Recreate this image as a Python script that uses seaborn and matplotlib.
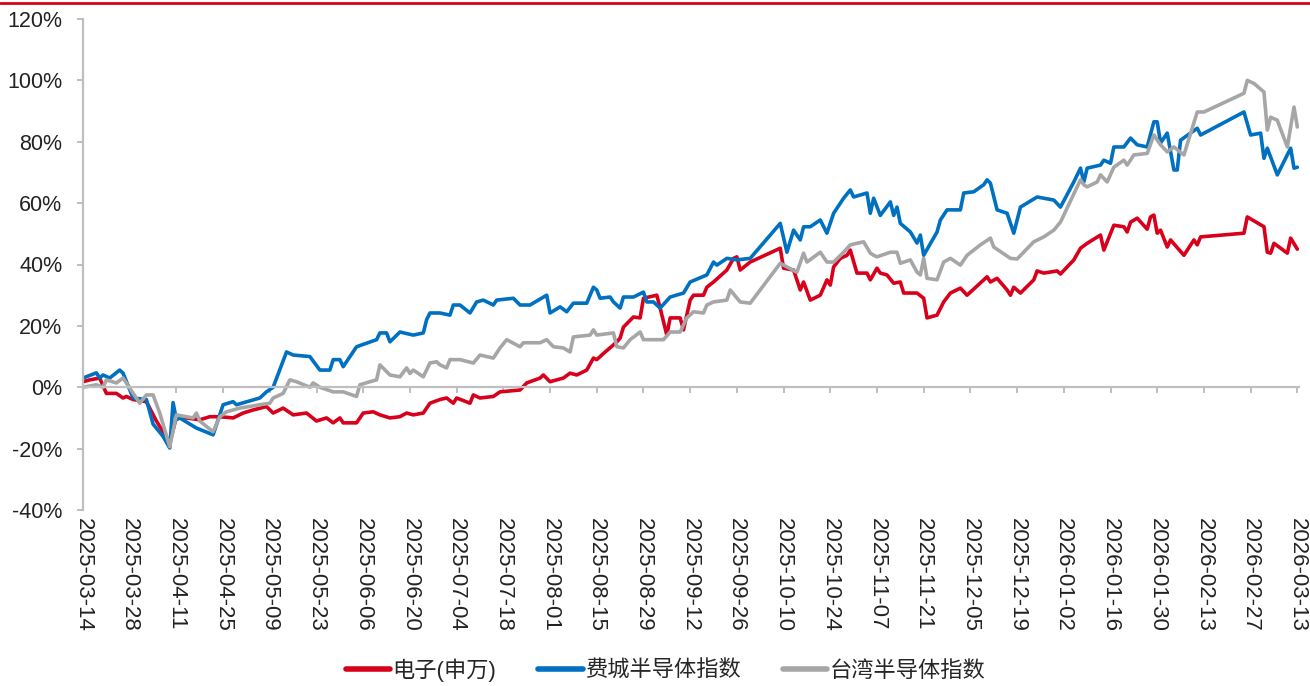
import pandas as pd
import matplotlib
matplotlib.use("Agg")
import matplotlib.pyplot as plt
import matplotlib.dates as mdates
from matplotlib.ticker import FuncFormatter, MultipleLocator
import seaborn as sns

series_names = ["电子(申万)", "费城半导体指数", "台湾半导体指数"]
colors = ["#D9001B", "#0070C0", "#A6A6A6"]

# 电子(申万)
red_dates = [
    "2025-03-14", "2025-03-16", "2025-03-19", "2025-03-21", "2025-03-24", "2025-03-26", "2025-03-27",
    "2025-03-29", "2025-04-02", "2025-04-05", "2025-04-09", "2025-04-10", "2025-04-11", "2025-04-14",
    "2025-04-18", "2025-04-21", "2025-04-24", "2025-04-28", "2025-05-01", "2025-05-04", "2025-05-08",
    "2025-05-10", "2025-05-13", "2025-05-16", "2025-05-20", "2025-05-23", "2025-05-26", "2025-05-28",
    "2025-05-30", "2025-05-31", "2025-06-04", "2025-06-06", "2025-06-09", "2025-06-11", "2025-06-14",
    "2025-06-17", "2025-06-19", "2025-06-21", "2025-06-24", "2025-06-26", "2025-06-29", "2025-07-01",
    "2025-07-03", "2025-07-04", "2025-07-08", "2025-07-09", "2025-07-11", "2025-07-15", "2025-07-17",
    "2025-07-23", "2025-07-25", "2025-07-29", "2025-07-30", "2025-08-01", "2025-08-05", "2025-08-07",
    "2025-08-09", "2025-08-12", "2025-08-14", "2025-08-15", "2025-08-17", "2025-08-20", "2025-08-21",
    "2025-08-22", "2025-08-23", "2025-08-26", "2025-08-28", "2025-08-29", "2025-09-02", "2025-09-03",
    "2025-09-05", "2025-09-06", "2025-09-09", "2025-09-10", "2025-09-12", "2025-09-13", "2025-09-16",
    "2025-09-17", "2025-09-19", "2025-09-23", "2025-09-25", "2025-09-26", "2025-09-27", "2025-09-30",
    "2025-10-09", "2025-10-10", "2025-10-13", "2025-10-15", "2025-10-16", "2025-10-18", "2025-10-21",
    "2025-10-23", "2025-10-24", "2025-10-25", "2025-10-27", "2025-10-29", "2025-10-30", "2025-11-01",
    "2025-11-04", "2025-11-05", "2025-11-07", "2025-11-08", "2025-11-10", "2025-11-12", "2025-11-14",
    "2025-11-15", "2025-11-19", "2025-11-21", "2025-11-22", "2025-11-25", "2025-11-27", "2025-11-29",
    "2025-12-02", "2025-12-04", "2025-12-10", "2025-12-11", "2025-12-13", "2025-12-16", "2025-12-17",
    "2025-12-18", "2025-12-20", "2025-12-24", "2025-12-25", "2025-12-27", "2025-12-31", "2026-01-01",
    "2026-01-05", "2026-01-07", "2026-01-09", "2026-01-13", "2026-01-14", "2026-01-17", "2026-01-20",
    "2026-01-21", "2026-01-22", "2026-01-24", "2026-01-27", "2026-01-28", "2026-01-29", "2026-01-30",
    "2026-01-31", "2026-02-02", "2026-02-03", "2026-02-07", "2026-02-10", "2026-02-11", "2026-02-12",
    "2026-02-25", "2026-02-26", "2026-03-03", "2026-03-04", "2026-03-05", "2026-03-06", "2026-03-10",
    "2026-03-11", "2026-03-13",
]
red_vals = [
    1.8, 2.4, 3.0, -2.0, -2.0, -3.5, -3.0,
    -4.0, -4.7, -11.0, -18.0, -14.0, -9.6, -10.0,
    -10.6, -9.6, -9.6, -10.0, -8.4, -7.4, -6.3,
    -8.4, -6.8, -9.0, -8.4, -11.0, -10.0, -11.6,
    -10.0, -11.6, -11.6, -8.4, -8.0, -9.0, -10.0,
    -9.6, -8.4, -9.0, -8.4, -5.2, -4.0, -3.5,
    -5.2, -3.5, -5.2, -2.5, -3.5, -3.0, -1.5,
    -0.9, 1.4, 3.0, 4.0, 1.8, 3.0, 4.6,
    4.0, 5.6, 9.5, 9.0, 11.0, 13.8, 14.8,
    16.0, 19.6, 22.9, 22.6, 29.0, 30.0, 25.8,
    17.0, 22.6, 22.6, 18.7, 28.4, 30.0, 30.0,
    32.6, 34.3, 38.2, 42.0, 42.5, 38.2, 40.8,
    45.3, 38.8, 38.2, 31.7, 34.3, 28.4, 30.0,
    35.0, 33.3, 39.2, 42.0, 43.0, 44.7, 37.2,
    37.2, 35.0, 38.8, 37.2, 36.6, 33.9, 34.3,
    30.7, 30.7, 29.0, 22.6, 23.5, 27.8, 30.7,
    32.3, 30.0, 36.0, 34.3, 35.5, 31.7, 30.0,
    32.6, 30.7, 35.0, 37.9, 37.2, 37.9, 36.9,
    41.5, 45.3, 46.9, 49.6, 44.7, 52.8, 52.3,
    50.6, 53.8, 55.1, 51.5, 55.5, 56.1, 50.2,
    51.2, 45.7, 48.0, 43.0, 48.0, 46.4, 49.0,
    50.2, 55.5, 52.3, 44.0, 43.7, 46.9, 43.7,
    48.6, 45.0,
]

# 费城半导体指数
blue_dates = [
    "2025-03-14", "2025-03-18", "2025-03-19", "2025-03-20", "2025-03-22", "2025-03-25", "2025-03-26",
    "2025-03-29", "2025-04-02", "2025-04-04", "2025-04-07", "2025-04-09", "2025-04-10", "2025-04-11",
    "2025-04-12", "2025-04-17", "2025-04-22", "2025-04-25", "2025-04-28", "2025-04-29", "2025-05-06",
    "2025-05-08", "2025-05-10", "2025-05-14", "2025-05-16", "2025-05-21", "2025-05-24", "2025-05-27",
    "2025-05-28", "2025-05-30", "2025-05-31", "2025-06-04", "2025-06-10", "2025-06-11", "2025-06-13",
    "2025-06-14", "2025-06-17", "2025-06-21", "2025-06-24", "2025-06-25", "2025-06-26", "2025-06-29",
    "2025-07-02", "2025-07-03", "2025-07-05", "2025-07-08", "2025-07-10", "2025-07-12", "2025-07-15",
    "2025-07-16", "2025-07-21", "2025-07-23", "2025-07-26", "2025-07-31", "2025-08-01", "2025-08-04",
    "2025-08-06", "2025-08-08", "2025-08-12", "2025-08-14", "2025-08-15", "2025-08-16", "2025-08-19",
    "2025-08-20", "2025-08-22", "2025-08-23", "2025-08-26", "2025-08-29", "2025-08-30", "2025-09-01",
    "2025-09-03", "2025-09-06", "2025-09-10", "2025-09-12", "2025-09-17", "2025-09-19", "2025-09-20",
    "2025-09-23", "2025-09-26", "2025-09-30", "2025-10-09", "2025-10-11", "2025-10-13", "2025-10-15",
    "2025-10-16", "2025-10-18", "2025-10-21", "2025-10-23", "2025-10-25", "2025-10-28", "2025-10-30",
    "2025-10-31", "2025-11-04", "2025-11-05", "2025-11-06", "2025-11-08", "2025-11-11", "2025-11-12",
    "2025-11-13", "2025-11-14", "2025-11-17", "2025-11-19", "2025-11-20", "2025-11-21", "2025-11-25",
    "2025-11-26", "2025-11-28", "2025-12-02", "2025-12-03", "2025-12-06", "2025-12-09", "2025-12-10",
    "2025-12-11", "2025-12-13", "2025-12-16", "2025-12-18", "2025-12-20", "2025-12-25", "2025-12-30",
    "2026-01-01", "2026-01-05", "2026-01-07", "2026-01-08", "2026-01-09", "2026-01-13", "2026-01-14",
    "2026-01-16", "2026-01-17", "2026-01-20", "2026-01-22", "2026-01-24", "2026-01-27", "2026-01-29",
    "2026-01-30", "2026-01-31", "2026-02-02", "2026-02-04", "2026-02-05", "2026-02-06", "2026-02-11",
    "2026-02-12", "2026-02-25", "2026-02-27", "2026-03-02", "2026-03-03", "2026-03-04", "2026-03-07",
    "2026-03-11", "2026-03-12", "2026-03-13",
]
blue_vals = [
    3.0, 4.7, 3.0, 4.0, 3.0, 5.6, 4.6,
    -3.5, -4.0, -12.0, -16.0, -19.8, -5.0, -10.6,
    -10.0, -13.3, -15.5, -5.7, -4.7, -5.7, -3.5,
    -1.5, 0.0, 11.5, 10.5, 10.0, 5.6, 5.6,
    9.0, 9.0, 6.7, 13.2, 15.5, 17.7, 17.7,
    14.8, 18.0, 17.0, 17.7, 22.0, 24.2, 24.2,
    23.5, 26.8, 26.8, 24.2, 27.8, 28.4, 26.8,
    28.4, 29.0, 26.8, 26.8, 30.0, 24.2, 26.2,
    24.6, 27.4, 27.4, 32.6, 31.7, 29.0, 29.4,
    27.8, 25.8, 29.4, 29.4, 31.0, 27.8, 27.8,
    25.8, 29.4, 30.7, 34.3, 36.6, 40.8, 39.8,
    42.0, 41.5, 42.0, 53.4, 44.0, 51.2, 48.0,
    52.3, 52.3, 54.5, 50.2, 56.7, 61.6, 64.3,
    62.0, 63.3, 56.7, 61.6, 56.0, 60.4, 56.0,
    58.7, 53.4, 50.6, 47.0, 49.6, 43.0, 50.6,
    54.5, 57.8, 57.8, 63.3, 63.7, 66.0, 67.6,
    66.5, 57.8, 56.7, 50.2, 58.7, 62.0, 61.0,
    58.7, 66.9, 71.4, 66.9, 71.4, 72.4, 74.0,
    73.0, 78.3, 78.3, 81.2, 79.0, 78.3, 86.5,
    86.5, 79.6, 82.8, 70.8, 70.8, 80.5, 84.4,
    82.2, 89.7, 82.2, 82.8, 74.6, 77.9, 69.2,
    77.9, 71.4, 71.7,
]

# 台湾半导体指数
gray_dates = [
    "2025-03-14", "2025-03-18", "2025-03-20", "2025-03-21", "2025-03-24", "2025-03-26", "2025-03-27",
    "2025-03-31", "2025-04-02", "2025-04-04", "2025-04-06", "2025-04-09", "2025-04-11", "2025-04-16",
    "2025-04-17", "2025-04-18", "2025-04-22", "2025-04-24", "2025-04-26", "2025-04-30", "2025-05-06",
    "2025-05-09", "2025-05-10", "2025-05-13", "2025-05-15", "2025-05-17", "2025-05-21", "2025-05-22",
    "2025-05-24", "2025-05-28", "2025-05-31", "2025-06-04", "2025-06-05", "2025-06-08", "2025-06-10",
    "2025-06-11", "2025-06-14", "2025-06-17", "2025-06-19", "2025-06-20", "2025-06-21", "2025-06-24",
    "2025-06-26", "2025-06-28", "2025-06-29", "2025-07-01", "2025-07-02", "2025-07-05", "2025-07-09",
    "2025-07-11", "2025-07-15", "2025-07-17", "2025-07-19", "2025-07-23", "2025-07-24", "2025-07-29",
    "2025-07-31", "2025-08-02", "2025-08-05", "2025-08-07", "2025-08-08", "2025-08-13", "2025-08-14",
    "2025-08-15", "2025-08-20", "2025-08-21", "2025-08-23", "2025-08-25", "2025-08-28", "2025-08-29",
    "2025-09-04", "2025-09-06", "2025-09-09", "2025-09-11", "2025-09-13", "2025-09-16", "2025-09-17",
    "2025-09-19", "2025-09-23", "2025-09-24", "2025-09-27", "2025-09-30", "2025-10-09", "2025-10-14",
    "2025-10-16", "2025-10-17", "2025-10-21", "2025-10-23", "2025-10-25", "2025-10-28", "2025-10-30",
    "2025-11-03", "2025-11-05", "2025-11-06", "2025-11-07", "2025-11-11", "2025-11-13", "2025-11-14",
    "2025-11-17", "2025-11-19", "2025-11-20", "2025-11-21", "2025-11-22", "2025-11-25", "2025-11-27",
    "2025-11-29", "2025-12-02", "2025-12-04", "2025-12-08", "2025-12-11", "2025-12-12", "2025-12-17",
    "2025-12-19", "2025-12-24", "2025-12-27", "2025-12-30", "2026-01-01", "2026-01-07", "2026-01-08",
    "2026-01-09", "2026-01-12", "2026-01-13", "2026-01-15", "2026-01-17", "2026-01-20", "2026-01-21",
    "2026-01-23", "2026-01-27", "2026-01-29", "2026-01-31", "2026-02-02", "2026-02-04", "2026-02-07",
    "2026-02-11", "2026-02-13", "2026-02-25", "2026-02-26", "2026-02-28", "2026-03-03", "2026-03-04",
    "2026-03-05", "2026-03-07", "2026-03-10", "2026-03-12", "2026-03-13",
]
gray_vals = [
    0.0, 0.8, 0.0, 2.4, 1.4, 3.0, 1.4,
    -5.2, -2.5, -2.5, -8.4, -19.4, -9.0, -10.0,
    -8.4, -11.0, -14.5, -9.6, -8.0, -6.8, -5.7,
    -5.2, -3.5, -2.0, 2.4, 1.8, 0.0, 1.4,
    0.0, -1.5, -1.5, -3.0, 0.8, 1.8, 2.4,
    7.3, 4.0, 3.4, 6.3, 4.5, 5.6, 3.4,
    7.9, 8.3, 7.3, 6.3, 9.0, 9.0, 7.9,
    10.5, 9.5, 12.8, 15.5, 13.2, 14.5, 14.5,
    15.5, 13.2, 12.8, 11.5, 16.4, 17.0, 18.7,
    17.0, 17.7, 13.2, 12.8, 15.5, 18.0, 15.5,
    15.5, 18.0, 18.0, 22.6, 24.6, 24.2, 26.8,
    27.8, 28.4, 31.7, 27.8, 27.4, 40.4, 37.5,
    43.7, 40.8, 44.0, 40.8, 40.8, 44.0, 46.4,
    47.4, 43.7, 43.0, 42.5, 44.0, 44.0, 40.4,
    41.5, 37.5, 36.6, 42.0, 35.5, 35.0, 40.8,
    42.0, 39.8, 43.0, 46.4, 48.6, 45.7, 42.0,
    41.8, 47.4, 49.0, 51.2, 53.8, 67.6, 66.0,
    65.3, 66.9, 69.2, 66.9, 71.7, 74.0, 72.4,
    75.7, 76.2, 82.2, 79.0, 76.7, 78.3, 75.7,
    89.7, 89.7, 95.8, 100.0, 99.0, 96.2, 83.8,
    88.0, 87.0, 78.3, 91.3, 84.8,
]

tick_start = "2025-03-14"
tick_end = "2026-03-13"

frames = []
for name, d, v in zip(series_names, [red_dates, blue_dates, gray_dates], [red_vals, blue_vals, gray_vals]):
    frames.append(pd.DataFrame({"date": pd.to_datetime(d), "value": v, "series": name}))
df = pd.concat(frames, ignore_index=True)

sns.set_style("white")
plt.rcParams["font.family"] = ["Liberation Sans", "Noto Sans CJK SC", "DejaVu Sans"]
axis_gray = "#BFBFBF"

fig = plt.figure(figsize=(13.1, 6.86), dpi=100)
ax = fig.add_axes([83 / 1310, 1 - 510 / 686, (1299 - 83) / 1310, (510 - 19) / 686])

sns.lineplot(data=df, x="date", y="value", hue="series", hue_order=series_names,
             palette=colors, linewidth=2.6, estimator=None, ax=ax)

ax.set_ylim(-40, 120)
ax.yaxis.set_major_locator(MultipleLocator(20))
ax.yaxis.set_major_formatter(FuncFormatter(lambda v, p: f"{v:.0f}%"))
ticks = pd.date_range(tick_start, tick_end, freq="14D")
ax.set_xlim(pd.Timestamp(tick_start), pd.Timestamp(tick_end) + pd.Timedelta(days=0.5))
ax.set_xticks(ticks)
ax.xaxis.set_major_formatter(mdates.DateFormatter("%Y-%m-%d"))
ax.set_xlabel("")
ax.set_ylabel("")

for s in ["top", "right"]:
    ax.spines[s].set_visible(False)
for s in ["left", "bottom"]:
    ax.spines[s].set_color(axis_gray)
    ax.spines[s].set_linewidth(1.6)
ax.spines["bottom"].set_position(("data", 0))

ax.tick_params(axis="y", direction="out", length=4, width=1.4, color=axis_gray,
               labelsize=15.5, labelcolor="#222222", pad=11, left=True)
ax.tick_params(axis="x", direction="out", length=4, width=1.4, color=axis_gray,
               labelsize=16, labelcolor="#222222", pad=90, bottom=True)
for lab in ax.get_xticklabels():
    lab.set_rotation(270)
    lab.set_ha("center")
    lab.set_va("top")

leg = ax.legend(loc="center", bbox_to_anchor=(0.508, 0.023), bbox_transform=fig.transFigure,
                ncol=3, frameon=False, fontsize=16, handlelength=2.0, handletextpad=0.1,
                columnspacing=1.9)
for line in leg.get_lines():
    line.set_linewidth(4)

# red rule along the top edge
fig.add_artist(plt.Line2D([0, 1], [0.996, 0.996], transform=fig.transFigure, color="#D9001B", lw=2))

fig.savefig("out.png", dpi=100)
